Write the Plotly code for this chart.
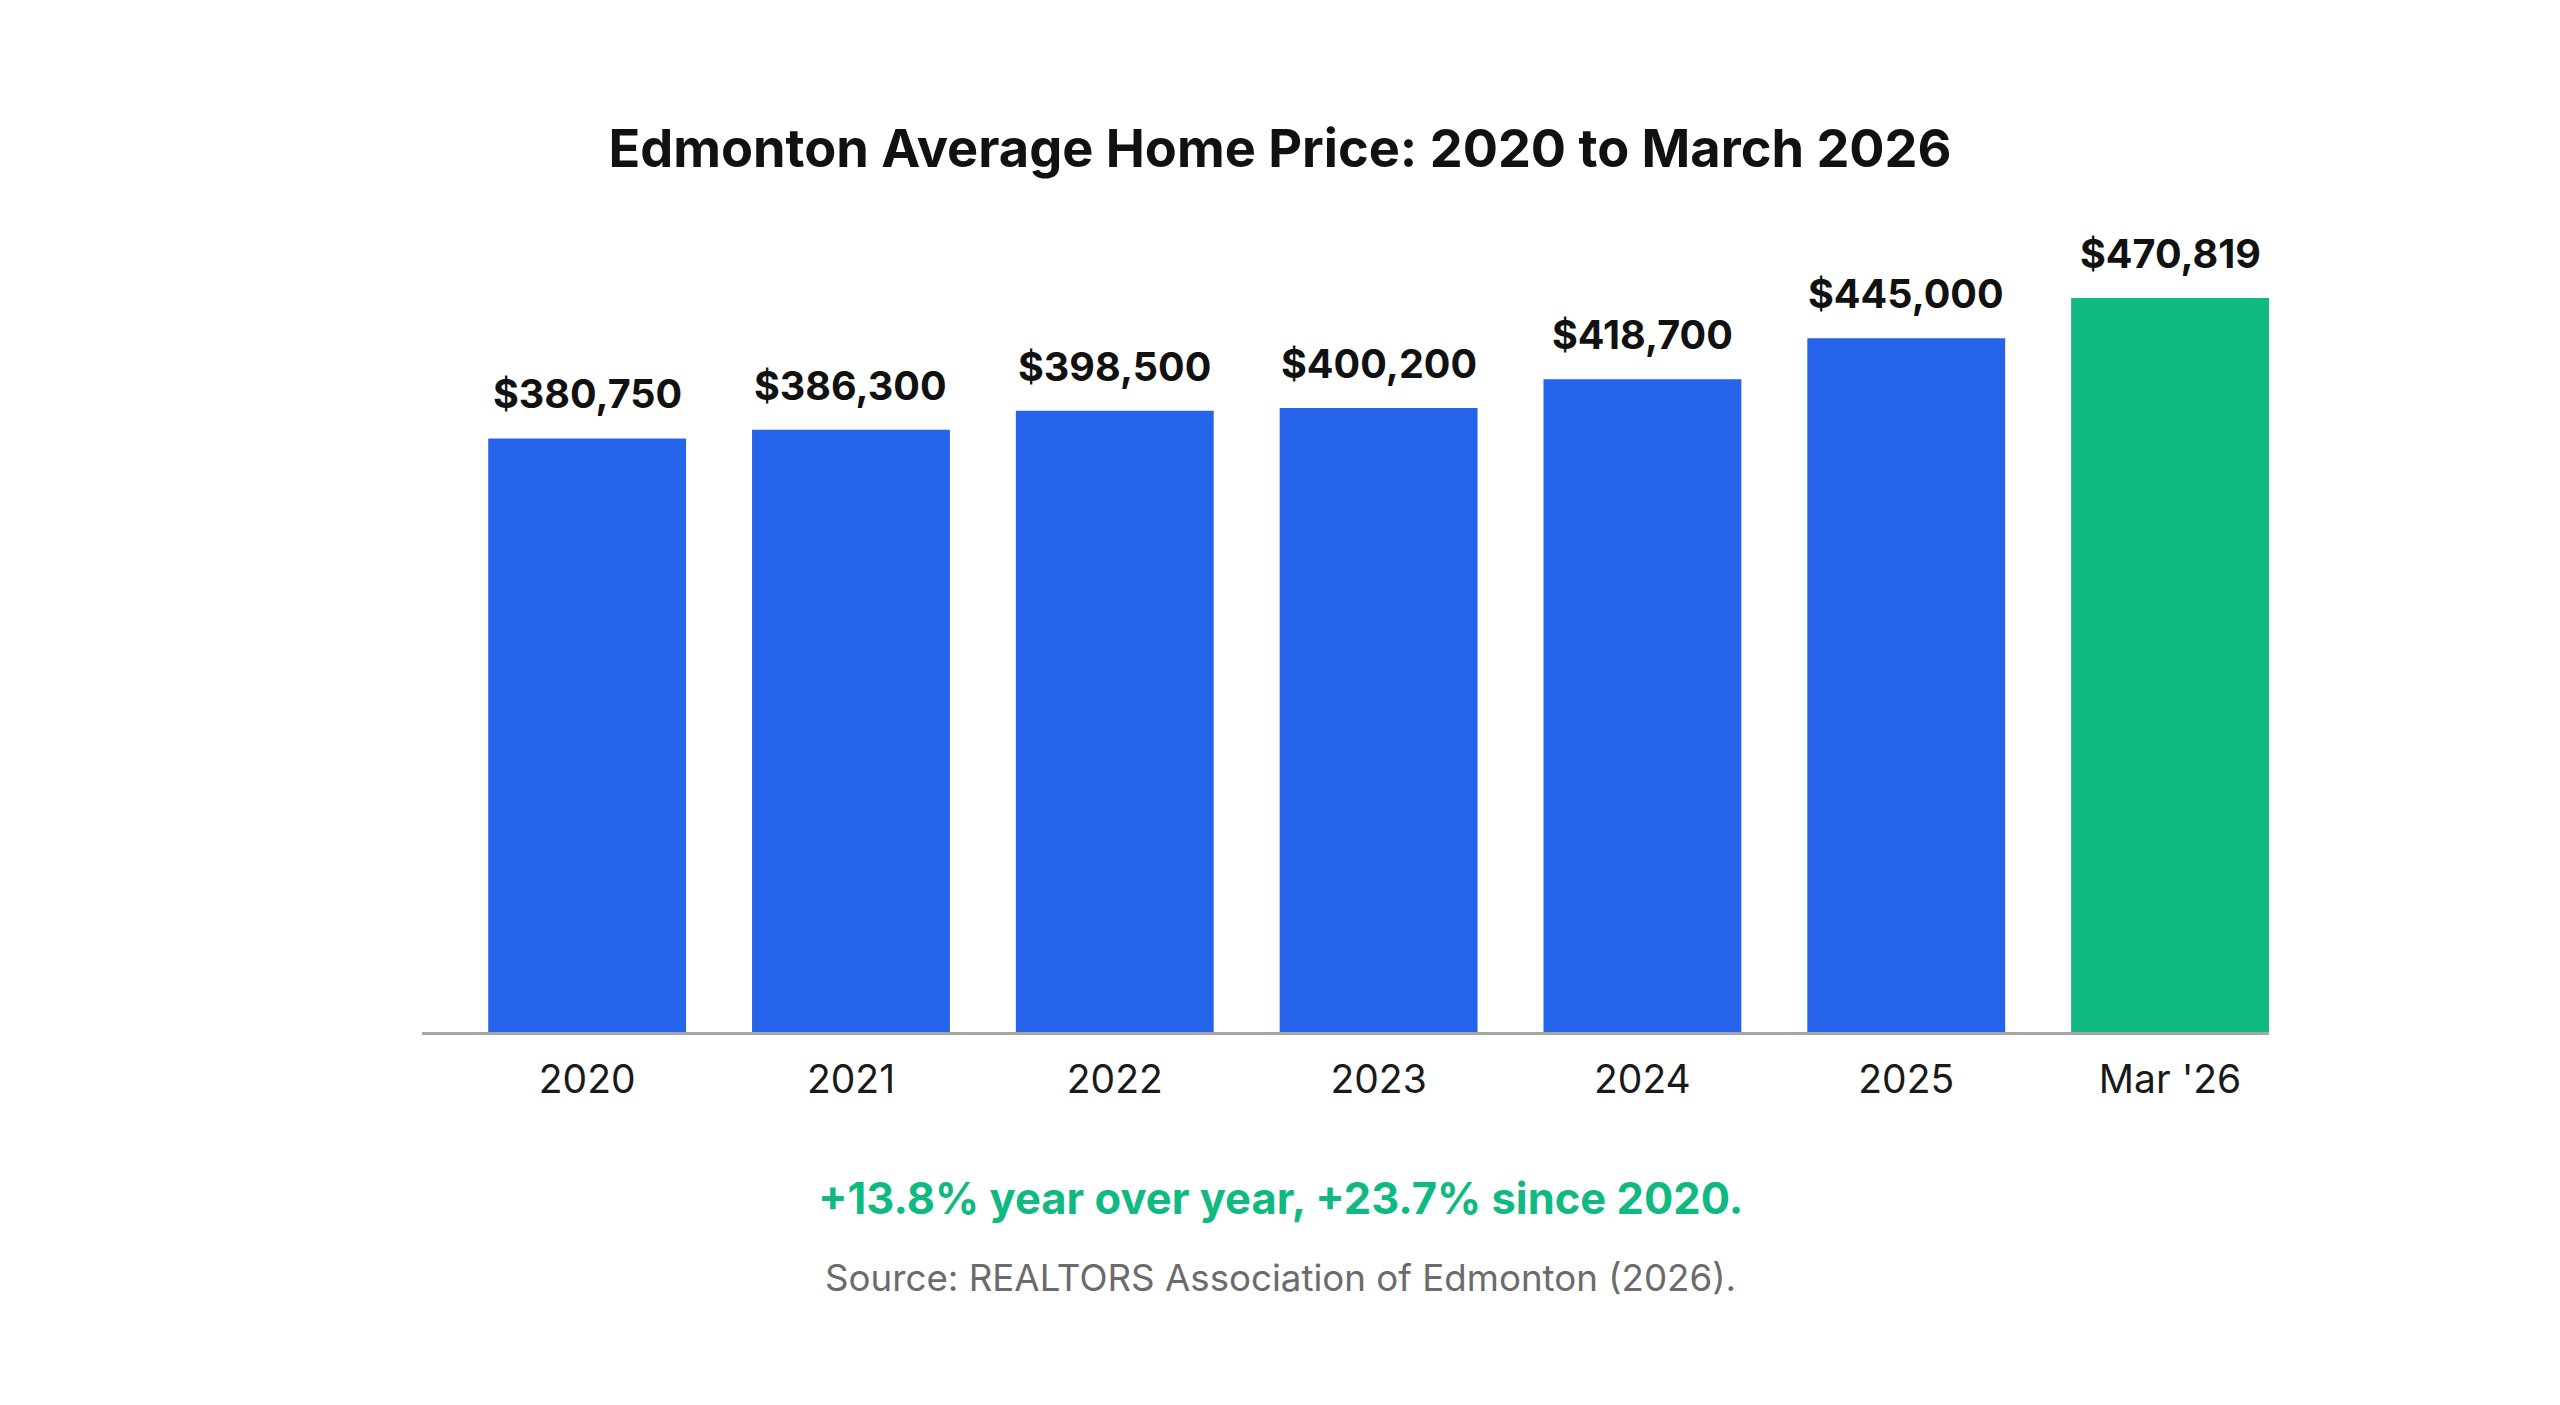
import plotly.graph_objects as go

# --- data ---
categories = ["2020", "2021", "2022", "2023", "2024", "2025", "Mar '26"]
avg_price = [380750, 386300, 398500, 400200, 418700, 445000, 470819]
bar_colors = ["#2563EB"] * 6 + ["#10B981"]

title_text = "Edmonton Average Home Price: 2020 to March 2026"
growth_note = "+13.8% year over year, +23.7% since 2020."
source_note = "Source: REALTORS Association of Edmonton (2026)."

FONT = "Inter, 'Noto Sans', Arial, sans-serif"
W, H = 2560, 1405
OFF = 8  # default body margin of the html page

fig = go.Figure()

fig.add_trace(go.Bar(
    x=categories,
    y=avg_price,
    marker_color=bar_colors,
    marker_line_width=0,
    hoverinfo="x+y",
    showlegend=False,
))

# value labels above each bar (category index on the x axis)
for i, val in enumerate(avg_price):
    fig.add_annotation(
        x=i, y=val, text=f"${val:,}",
        showarrow=False, yanchor="bottom", yshift=18,
        font=dict(family=FONT, size=39.5, color="#111111", weight=700),
    )

plot_top, plot_bottom = 230 - OFF, 373 + OFF
plot_l, plot_r = 422 - OFF, 291 + OFF
plot_h = H - plot_top - plot_bottom
plot_w = W - plot_l - plot_r
px_per_unit = 1.559e-3
center_px = 1280 - OFF
center_x = (center_px - plot_l) / plot_w

# green summary line + source line, placed from pixel targets
for text, y_px, size, color, weight in [
    (growth_note, 1198, 43.5, "#10B981", 700),
    (source_note, 1277, 36.7, "#6B6B6B", 400),
]:
    fig.add_annotation(
        xref="paper", yref="paper", x=center_x,
        y=(H - plot_bottom - (y_px - OFF)) / plot_h,
        text=text, showarrow=False, xanchor="center", yanchor="middle",
        font=dict(family=FONT, size=size, color=color, weight=weight),
    )

fig.update_layout(
    width=W, height=H,
    margin=dict(l=plot_l, r=plot_r, t=plot_top, b=plot_bottom),
    paper_bgcolor="white", plot_bgcolor="white",
    bargap=0.25,
    title=dict(
        text=title_text, x=center_px / W, xanchor="center",
        y=1 - (149 - OFF) / H, yanchor="middle", yref="container",
        font=dict(family=FONT, size=52.3, color="#111111", weight=700),
    ),
    xaxis=dict(
        type="category",
        range=[-0.626, 6.375],
        showline=True, linecolor="#A6A6A6", linewidth=3,
        ticks="", ticklabelstandoff=11,
        tickfont=dict(family=FONT, size=39, color="#1A1A1A"),
        showgrid=False, zeroline=False, fixedrange=True,
    ),
    yaxis=dict(
        range=[0, plot_h / px_per_unit],
        visible=False, showgrid=False, zeroline=False, fixedrange=True,
    ),
)

fig.write_html("out.html")
